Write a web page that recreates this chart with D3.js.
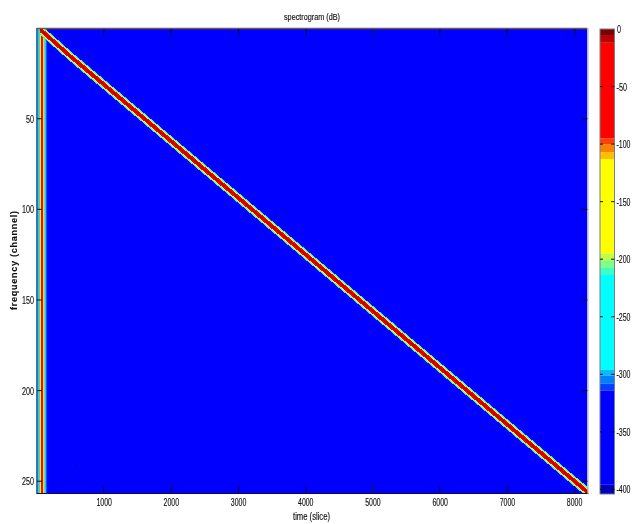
<!DOCTYPE html>
<html>
<head>
<meta charset="utf-8">
<script src="https://cdn.jsdelivr.net/npm/d3@7"></script>
<style>
body { margin: 0; background: #fff; }
text { font-family: "Liberation Sans", Arial, sans-serif; fill: #111; stroke: #111; stroke-width: 0.15; }
</style>
</head>
<body>
<script>
// colormap bands (upper dB edge of each band, top to bottom)
var bandTops = [0, -6, -12, -95, -100, -107, -113, -195, -201, -207, -213, -296, -301, -308, -314, -396];
var bandColors = ["#800000", "#bf0000", "#ff0000", "#ff4000", "#ff8000", "#ffbf00", "#ffff00", "#bfff40",
                  "#80ff80", "#40ffbf", "#00ffff", "#00bfff", "#0080ff", "#0040ff", "#0000ff", "#0000bf"];
var dbMin = -404;
var backgroundDb = -350;

// the sweep: channel of the ridge read at these slices
var ridgeSlices = [40, 512, 1024, 1536, 2048, 2560, 3072, 3584, 4096, 4608, 5120, 5632, 6144, 6656, 7168, 7680, 8192];
var ridgeChannels = [0.5, 16, 32, 48, 64, 80, 96, 112, 128, 144, 160, 176, 192, 208, 224, 240, 256];
// cross section of the ridge: half width in channels and level in dB, outside to centre
var ridgeHalfWidths = [2.9, 2.4, 2.0, 1.5, 0.7];
var ridgeLevels = [-260, -204, -170, -60, -8];

// the vertical stripe at the start of the file: columns in slices
var stripeStarts = [1, 18, 38, 60, 92, 108, 124, 140];
var stripeLevels = [-305, -260, -170, -60, -170, -204, -260];

// faint specks in the blue area
var speckSlices = [235, 413, 472, 577, 710, 903, 3297];
var speckChannels = [254, 248, 246, 241, 238, 231, 158];

var xTicks = [1000, 2000, 3000, 4000, 5000, 6000, 7000, 8000];
var yTicks = [50, 100, 150, 200, 250];
var dbTicks = [0, -50, -100, -150, -200, -250, -300, -350, -400];

var w = 639;
var h = 524;

var x = d3.scaleLinear().domain([1, 8192]).range([37, 587.5]);
var y = d3.scaleLinear().domain([0.5, 256.5]).range([29, 493]);
var yDb = d3.scaleLinear().domain([0, dbMin]).range([29, 494]);

// dB -> colour, band with highest top at or below the value
function dbColor(v) {
  var i = bandTops.findIndex(function(t, k) {
    var next = k + 1 < bandTops.length ? bandTops[k + 1] : dbMin;
    return v <= t && v > next;
  });
  return bandColors[i < 0 ? bandColors.length - 1 : i];
}

var svg = d3.select("body").append("svg")
  .attr("width", w)
  .attr("height", h)
  .style("display", "block");

var defs = svg.append("defs");
defs.append("filter").attr("id", "soft").attr("x", "-5%").attr("y", "-5%").attr("width", "110%").attr("height", "110%")
  .append("feGaussianBlur").attr("stdDeviation", 0.5);
defs.append("filter").attr("id", "softText").attr("x", "-20%").attr("y", "-20%").attr("width", "140%").attr("height", "140%")
  .append("feGaussianBlur").attr("stdDeviation", 0.35);
defs.append("clipPath").attr("id", "plotClip").append("rect")
  .attr("x", x(1)).attr("y", y(0.5)).attr("width", x(8192) - x(1)).attr("height", y(256.5) - y(0.5));

var plot = svg.append("g").attr("filter", "url(#soft)");
var image = plot.append("g").attr("clip-path", "url(#plotClip)");

image.append("rect")
  .attr("x", x(1)).attr("y", y(0.5))
  .attr("width", x(8192) - x(1)).attr("height", y(256.5) - y(0.5))
  .attr("fill", dbColor(backgroundDb));

image.selectAll("rect.stripe")
  .data(stripeLevels)
  .enter().append("rect")
  .attr("class", "stripe")
  .attr("x", function(d, i) { return x(stripeStarts[i]); })
  .attr("width", function(d, i) { return x(stripeStarts[i + 1]) - x(stripeStarts[i]); })
  .attr("y", y(0.5))
  .attr("height", y(256.5) - y(0.5))
  .attr("fill", dbColor);

var ridge = ridgeSlices.map(function(s, i) { return { slice: s, channel: ridgeChannels[i] }; });

ridgeHalfWidths.forEach(function(hw, k) {
  var area = d3.area()
    .x(function(d) { return x(d.slice); })
    .y0(function(d) { return y(d.channel - hw); })
    .y1(function(d) { return y(d.channel + hw); });
  image.append("path")
    .datum(ridge)
    .attr("d", area)
    .attr("shape-rendering", "crispEdges")
    .attr("fill", dbColor(ridgeLevels[k]));
});

image.selectAll("rect.speck")
  .data(speckSlices)
  .enter().append("rect")
  .attr("class", "speck")
  .attr("x", function(d) { return x(d); })
  .attr("y", function(d, i) { return y(speckChannels[i]); })
  .attr("width", 1)
  .attr("height", 1)
  .attr("fill", "#00007a");

// frame and ticks
var frame = plot.append("g");
frame.append("line").attr("x1", x(1)).attr("x2", x(8192)).attr("y1", 28.5).attr("y2", 28.5)
  .attr("stroke", "#6b5a40").attr("stroke-width", 1.6);
frame.append("line").attr("x1", x(1)).attr("x2", x(8192) + 1).attr("y1", 493.5).attr("y2", 493.5)
  .attr("stroke", "#10103a").attr("stroke-width", 1);
frame.append("line").attr("x1", 36.5).attr("x2", 36.5).attr("y1", 28).attr("y2", 494)
  .attr("stroke", "#5a6a8a").attr("stroke-width", 1);
frame.append("line").attr("x1", 588).attr("x2", 588).attr("y1", 28).attr("y2", 494)
  .attr("stroke", "#b0b0b8").attr("stroke-width", 1);

frame.selectAll("line.xt")
  .data(xTicks)
  .enter().append("line").attr("class", "xt")
  .attr("x1", function(d) { return x(d); }).attr("x2", function(d) { return x(d); })
  .attr("y1", 29).attr("y2", 36).attr("stroke", "#101040");
frame.selectAll("line.xb")
  .data(xTicks)
  .enter().append("line").attr("class", "xb")
  .attr("x1", function(d) { return x(d); }).attr("x2", function(d) { return x(d); })
  .attr("y1", 486).attr("y2", 493).attr("stroke", "#101040");
frame.selectAll("line.yl")
  .data(yTicks)
  .enter().append("line").attr("class", "yl")
  .attr("y1", function(d) { return y(d); }).attr("y2", function(d) { return y(d); })
  .attr("x1", 37).attr("x2", 42).attr("stroke", "#101010");
frame.selectAll("line.yr")
  .data(yTicks)
  .enter().append("line").attr("class", "yr")
  .attr("y1", function(d) { return y(d); }).attr("y2", function(d) { return y(d); })
  .attr("x1", 582).attr("x2", 587.5).attr("stroke", "#101010");

// colorbar
var cbar = svg.append("g").attr("filter", "url(#soft)");
cbar.selectAll("rect")
  .data(bandTops)
  .enter().append("rect")
  .attr("x", 600)
  .attr("width", 14.5)
  .attr("y", function(d) { return yDb(d); })
  .attr("height", function(d, i) {
    var next = i + 1 < bandTops.length ? bandTops[i + 1] : dbMin;
    return yDb(next) - yDb(d);
  })
  .attr("fill", function(d, i) { return bandColors[i]; });
cbar.append("rect")
  .attr("x", 600).attr("y", yDb(0)).attr("width", 14.5).attr("height", yDb(dbMin) - yDb(0))
  .attr("fill", "none").attr("stroke", "#77808a").attr("stroke-width", 1);
cbar.selectAll("line.l")
  .data(dbTicks.slice(1))
  .enter().append("line").attr("class", "l")
  .attr("y1", function(d) { return yDb(d); }).attr("y2", function(d) { return yDb(d); })
  .attr("x1", 600).attr("x2", 603).attr("stroke", "#111");
cbar.selectAll("line.r")
  .data(dbTicks.slice(1))
  .enter().append("line").attr("class", "r")
  .attr("y1", function(d) { return yDb(d); }).attr("y2", function(d) { return yDb(d); })
  .attr("x1", 611).attr("x2", 614.5).attr("stroke", "#111");

// text
var labels = svg.append("g").attr("filter", "url(#softText)");

labels.selectAll("text.xl")
  .data(xTicks)
  .enter().append("text").attr("class", "xl")
  .attr("x", function(d) { return x(d); })
  .attr("y", 506)
  .attr("text-anchor", "middle")
  .attr("font-size", 11)
  .attr("textLength", 15.5)
  .attr("lengthAdjust", "spacingAndGlyphs")
  .text(function(d) { return d; });

labels.selectAll("text.yl")
  .data(yTicks)
  .enter().append("text").attr("class", "yl")
  .attr("x", 34)
  .attr("y", function(d) { return y(d) + 4; })
  .attr("text-anchor", "end")
  .attr("font-size", 11)
  .attr("textLength", function(d) { return String(d).length * 4; })
  .attr("lengthAdjust", "spacingAndGlyphs")
  .text(function(d) { return d; });

labels.selectAll("text.cb")
  .data(dbTicks)
  .enter().append("text").attr("class", "cb")
  .attr("x", function(d) { return d === 0 ? 617 : 616.5; })
  .attr("y", function(d) { return yDb(d) + 4; })
  .attr("font-size", 11)
  .attr("textLength", function(d) { return d === 0 ? 4 : String(d).length * 3.5; })
  .attr("lengthAdjust", "spacingAndGlyphs")
  .text(function(d) { return d; });

labels.append("text")
  .attr("x", 312).attr("y", 20)
  .attr("text-anchor", "middle")
  .attr("font-size", 9)
  .attr("textLength", 56)
  .attr("lengthAdjust", "spacingAndGlyphs")
  .text("spectrogram (dB)");

labels.append("text")
  .attr("x", 311.5).attr("y", 520)
  .attr("text-anchor", "middle")
  .attr("font-size", 10)
  .attr("textLength", 37)
  .attr("lengthAdjust", "spacingAndGlyphs")
  .text("time (slice)");

labels.append("text")
  .attr("transform", "translate(17,260.5) rotate(-90)")
  .attr("text-anchor", "middle")
  .attr("font-size", 9)
  .attr("font-weight", "bold")
  .attr("textLength", 99)
  .text("frequency (channel)");
</script>
</body>
</html>
